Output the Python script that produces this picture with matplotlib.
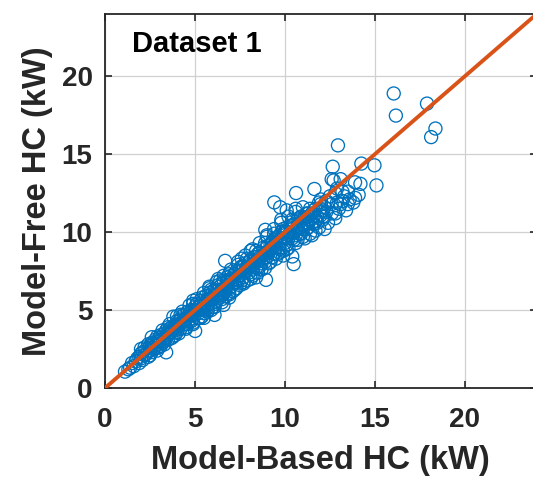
import matplotlib
matplotlib.use("Agg")
from matplotlib import pyplot as plt

plt.rcParams['font.family'] = ['Liberation Sans', 'DejaVu Sans']
plt.rcParams['font.weight'] = 'bold'

# model-based heating capacity (kW) vs model-free heating capacity (kW)
model_based = [1.3, 1.5, 1.6, 1.8, 1.9, 2.0, 2.1, 2.2, 2.3, 2.4, 2.5, 2.6, 2.7, 2.8, 2.9,
               3.0, 3.0, 3.1, 3.2, 3.3, 3.4, 3.5, 3.6, 3.7, 3.8, 3.9, 4.0, 4.0, 4.1, 4.2,
               4.3, 4.4, 4.5, 4.5, 4.6, 4.7, 4.8, 4.9, 5.0, 5.0, 5.1, 5.2, 5.3, 5.4, 5.5,
               5.5, 5.6, 5.7, 5.8, 5.9, 6.0, 6.0, 6.1, 6.2, 6.3, 6.4, 6.5, 6.5, 6.6, 6.7,
               6.8, 6.9, 7.0, 7.0, 7.1, 7.2, 7.3, 7.4, 7.5, 7.5, 7.6, 7.7, 7.8, 7.9, 8.0,
               8.0, 8.1, 8.2, 8.3, 8.4, 8.5, 8.5, 8.6, 8.7, 8.8, 8.9, 9.0, 9.0, 9.1, 9.2,
               9.3, 9.4, 9.5, 9.5, 9.6, 9.7, 9.8, 9.9, 10.0, 10.0, 10.1, 10.2, 10.3, 10.4,
               10.5, 10.6, 10.7, 10.8, 10.9, 11.0, 11.1, 11.2, 11.3, 11.4, 11.5, 11.6,
               11.8, 11.9, 12.0, 12.1, 12.3, 12.4, 12.6, 12.8, 13.0, 13.2, 13.4, 13.6, 13.8,
               2.2, 2.6, 3.1, 3.5, 3.9, 4.2, 4.6, 4.9, 5.2, 5.4, 5.7, 5.9, 6.2, 6.4, 6.7,
               6.9, 7.2, 7.4, 7.7, 7.9, 8.2, 8.4, 8.7, 8.9, 9.2, 9.4, 9.7, 9.9, 10.2, 10.4,
               10.7, 10.9, 11.2, 11.4, 11.7, 12.0, 12.2, 12.5, 12.8, 13.1, 13.5, 13.9, 14.1,
               12.9, 11.9, 13.3,
               2.4, 2.7, 2.9, 3.2, 3.4, 3.6, 3.8, 4.1, 4.3, 4.4, 4.7, 4.8, 5.1, 5.3, 5.4,
               5.6, 5.8, 6.0, 6.1, 6.3, 6.5, 6.6, 6.8, 7.0, 7.1, 7.3, 7.5, 7.6, 7.8, 8.0,
               8.1, 8.3, 8.5, 8.6, 8.8, 9.0, 9.1, 9.3, 9.5, 9.6, 9.8, 10.0, 10.1, 10.3,
               10.5, 10.6, 10.8, 11.0, 11.1, 11.3, 11.5, 11.6, 11.8, 12.0, 12.2, 12.4,
               12.6, 12.9, 13.2, 13.5,
               3.0, 3.3, 3.7, 4.0, 4.4, 4.7, 5.0, 5.3, 5.6, 5.9, 6.2, 6.5, 6.8, 7.1, 7.4,
               7.7, 8.0, 8.3, 8.6, 8.9, 9.2, 9.5, 9.8, 10.1, 10.4, 10.7, 11.0, 11.3, 11.6,
               12.0, 2.0, 1.7, 1.4, 2.5, 2.8, 4.9, 5.8, 6.3, 7.6, 8.1, 9.0, 9.8, 10.6,
               11.0, 5.5, 6.9, 8.4, 9.9, 11.5, 12.8, 9.74, 10.1, 12.6, 13.1,
               1.9, 2.1, 2.3, 2.6, 2.9, 3.1, 3.3, 3.5, 3.7, 3.9, 4.1, 4.2, 4.4, 4.6, 4.8,
               5.0, 5.2, 5.4, 5.5, 5.7, 5.9, 6.1, 6.3, 6.4, 6.6, 6.8, 7.0, 7.2, 7.3, 7.5,
               7.7, 7.9, 8.1, 8.2, 8.4, 8.6, 8.8, 9.0, 9.1, 9.3, 9.5, 9.7, 9.9, 10.1,
               10.2, 10.4, 10.6, 10.8, 11.0, 11.2, 11.4, 11.7, 12.1, 12.3,
               2.0, 2.4, 2.9, 3.2, 3.6, 4.0, 4.3, 4.7, 5.1, 5.5, 5.8, 6.2, 6.6, 7.0, 7.4,
               7.8, 8.2, 8.6, 9.0, 9.4, 9.8, 10.2, 10.6,
               2.5, 2.9, 3.3, 3.7, 4.1, 4.5, 4.9, 5.3, 5.7, 6.1, 6.5, 6.9, 7.3, 7.7, 8.1,
               8.5, 8.9, 9.3, 9.7, 10.1, 10.5, 10.9, 11.3, 11.7, 12.1,
               16.05, 16.17, 17.9, 18.37, 18.13, 12.95, 12.66, 14.25, 14.98, 15.09, 12.71,
               13.9, 14.2, 11.64, 10.62, 9.41, 12.21, 8.91, 10.41, 10.49, 8.95, 6.68, 6.09,
               3.4, 1.11, 2.6, 3.8, 5.01, 6.59]
model_free = [1.2, 1.6, 1.4, 1.9, 1.6, 2.2, 1.8, 2.1, 2.5, 2.0, 2.7, 2.3, 2.5, 3.1, 2.6,
              3.0, 2.6, 3.4, 2.9, 3.2, 3.7, 3.1, 3.5, 3.9, 3.3, 3.7, 4.3, 3.6, 4.0, 3.8,
              4.6, 4.1, 4.4, 3.9, 4.9, 4.4, 4.7, 4.2, 5.2, 4.7, 5.0, 4.5, 5.6, 5.1, 4.8,
              5.4, 5.9, 5.2, 5.6, 5.0, 6.2, 5.7, 5.4, 6.0, 6.6, 5.8, 6.3, 5.5, 6.9, 6.2,
              6.6, 6.0, 7.2, 6.5, 6.9, 6.3, 7.5, 6.9, 7.2, 6.6, 7.8, 7.1, 7.5, 6.9, 8.1,
              7.4, 7.8, 7.2, 8.4, 7.7, 8.1, 7.4, 8.7, 8.0, 8.3, 7.7, 9.0, 8.4, 8.7, 8.1,
              9.4, 8.6, 9.0, 8.3, 9.7, 9.0, 9.4, 8.8, 10.1, 9.3, 9.7, 9.0, 10.4, 9.6,
              10.0, 9.3, 10.8, 9.9, 10.3, 9.7, 10.9, 10.2, 10.6, 9.9, 11.2, 10.5,
              11.0, 10.3, 11.5, 10.8, 11.3, 10.6, 11.8, 11.2, 11.5, 12.0, 11.4, 12.1, 11.9,
              2.6, 2.9, 2.7, 3.9, 3.4, 4.7, 4.1, 5.4, 4.8, 5.8, 5.0, 6.3, 5.6, 6.9, 5.9,
              7.3, 6.7, 7.9, 6.7, 8.3, 7.6, 8.8, 7.6, 9.3, 8.9, 9.9, 8.7, 10.2, 9.6, 10.8,
              9.5, 11.0, 10.6, 11.5, 10.1, 12.1, 11.0, 12.3, 12.5, 11.8, 12.6, 12.2, 12.4,
              12.8, 11.9, 12.3,
              2.4, 2.9, 3.0, 3.3, 3.2, 3.8, 3.8, 4.3, 4.2, 4.7, 4.8, 4.3, 5.4, 5.0, 4.6,
              5.5, 6.1, 5.2, 6.3, 5.9, 6.7, 6.1, 7.1, 6.8, 6.2, 7.0, 7.7, 6.9, 8.0, 7.7,
              7.0, 8.0, 8.6, 7.8, 9.0, 8.7, 8.0, 9.0, 9.6, 8.6, 10.0, 9.6, 8.9, 9.9,
              10.5, 9.8, 10.6, 10.2, 9.6, 11.0, 10.6, 11.4, 10.6, 11.1, 11.6, 11.9,
              11.2, 11.9, 12.6, 11.8,
              3.2, 3.0, 3.6, 3.9, 4.4, 4.6, 5.0, 5.3, 5.2, 5.8, 6.2, 6.0, 6.8, 7.1, 7.2,
              7.6, 7.9, 8.2, 8.4, 8.6, 9.2, 9.3, 9.6, 10.0, 10.2, 10.4, 10.8, 11.2, 11.0,
              11.8, 1.9, 1.7, 1.3, 2.4, 2.7, 5.6, 6.5, 7.0, 8.3, 8.8, 9.7, 10.6, 11.3,
              11.6, 4.5, 5.8, 7.1, 8.5, 9.8, 10.9, 11.6, 11.4, 13.4, 13.4,
              2.0, 2.3, 2.2, 2.6, 2.8, 3.1, 3.5, 3.4, 3.7, 4.0, 4.1, 4.4, 4.3, 4.6, 5.0,
              4.9, 5.2, 5.5, 5.1, 5.7, 6.0, 5.9, 6.3, 6.5, 6.4, 6.9, 7.0, 7.3, 6.8, 7.5,
              7.8, 7.6, 8.2, 7.9, 8.4, 8.7, 8.5, 9.1, 8.8, 9.3, 9.5, 9.4, 9.9, 10.3,
              9.8, 10.4, 10.1, 10.9, 10.5, 11.2, 10.8, 11.5, 11.4, 12.0,
              2.5, 2.8, 3.3, 3.7, 4.1, 4.6, 4.9, 5.3, 5.7, 6.1, 6.4, 6.8, 7.2, 7.6, 8.1,
              8.5, 8.9, 9.3, 9.8, 10.2, 10.8, 11.0, 11.5,
              2.1, 2.4, 2.8, 3.2, 3.5, 3.8, 4.1, 4.5, 4.9, 5.2, 5.7, 6.1, 6.4, 6.8, 7.3,
              7.7, 8.1, 8.4, 8.9, 9.2, 9.5, 9.9, 10.3, 10.7, 11.0,
              18.9, 17.48, 18.25, 16.65, 16.1, 15.57, 14.2, 14.4, 14.29, 13.0, 13.32,
              13.2, 13.1, 12.77, 12.51, 11.91, 10.2, 10.15, 8.44, 7.95, 6.94, 8.16, 4.69,
              2.29, 1.05, 3.26, 4.58, 3.66, 5.33]
ref_line = [0, 24]
ticks = [0, 5, 10, 15, 20]

fig = plt.figure(figsize=(5.33, 4.82), dpi=100)
ax = fig.add_axes([0.197, 0.195, 0.81, 0.776])

ax.scatter(model_based, model_free, s=88, facecolors='none', edgecolors='#0072BD',
           linewidths=0.95, zorder=2)
ax.plot(ref_line, ref_line, color='#D95319', linewidth=2.8, zorder=3)

ax.set_xlim(0, 24)
ax.set_ylim(0, 24)
ax.set_xticks(ticks)
ax.set_yticks(ticks)
ax.tick_params(direction='in', length=5, width=1.2, labelsize=20,
               top=True, right=True, colors='#262626')
ax.tick_params(axis='x', pad=14)
ax.tick_params(axis='y', pad=9)
for lab in ax.get_xticklabels() + ax.get_yticklabels():
    lab.set_fontweight('bold')
ax.grid(True, color='#d0d0d0', linewidth=0.9, zorder=0)
ax.set_axisbelow(True)
for sp in ax.spines.values():
    sp.set_linewidth(1.3)
    sp.set_color('#262626')

ax.set_xlabel('Model-Based HC (kW)', fontsize=23.5, fontweight='bold', color='#262626',
              labelpad=8)
ax.set_ylabel('Model-Free HC (kW)', fontsize=23.5, fontweight='bold', color='#262626',
              labelpad=6)
ax.text(0.063, 0.92, 'Dataset 1', transform=ax.transAxes, fontsize=21,
        fontweight='bold', va='center')

fig.savefig('out.png', dpi=100)
